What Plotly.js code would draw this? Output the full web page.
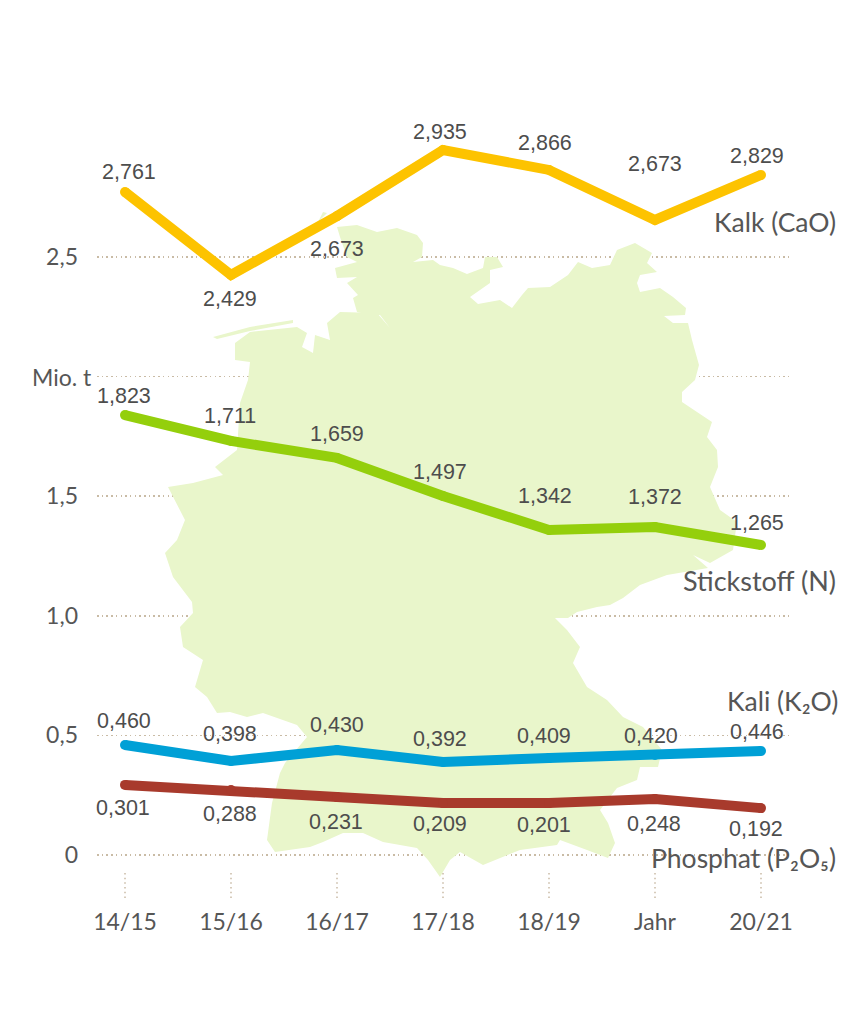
<!DOCTYPE html>
<html><head><meta charset="utf-8">
<script src="https://cdn.plot.ly/plotly-3.0.1.min.js"></script>
<style>html,body{margin:0;padding:0;background:#fff}</style></head>
<body><div id="chart" style="width:860px;height:1012px"></div>
<script>
// Category labels
const categories = ['14/15','15/16','16/17','17/18','18/19','Jahr','20/21'];
// Series as drawn (Mio. t)
const kalk       = [2.772,2.425,2.671,2.947,2.864,2.655,2.843];
const stickstoff = [1.839,1.731,1.660,1.501,1.359,1.371,1.296];
const kali       = [0.460,0.393,0.439,0.389,0.405,0.418,0.435];
const phosphat   = [0.293,0.272,0.242,0.217,0.217,0.234,0.196];
// Printed value labels
const kalkText       = ['2,761','2,429','2,673','2,935','2,866','2,673','2,829'];
const stickstoffText = ['1,823','1,711','1,659','1,497','1,342','1,372','1,265'];
const kaliText       = ['0,460','0,398','0,430','0,392','0,409','0,420','0,446'];
const phosphatText   = ['0,301','0,288','0,231','0,209','0,201','0,248','0,192'];
// Y axis ticks
const yTicks = [0,0.5,1,1.5,2,2.5];
const yTickText = ['0','0,5','1,0','1,5','','2,5'];
// Label offsets from their points, px
const kalkDx = [4,-1,0,-3,-4,0,-4],      kalkDy = [-20,24,33,-18,-27,-56,-19];
const stickDx = [-1,-1,0,-3,-4,0,-4],    stickDy = [-19,-25,-24,-24,-34,-30,-22];
const kaliDx = [-1,-1,0,-3,-5,-4,-4],    kaliDy = [-24,-27,-25,-23,-22,-19,-19];
const phosDx = [-2,-1,-1,-3,-5,-1,-5],   phosDy = [23,24,25,21,22,25,21];
// Background map of Germany: outline (page pixels), decoration only
const mapPx = [[337,227],[357,225],[377,232],[397,228],[417,235],[423,243],[422,257],[413,262],[433,260],[440,265],[453,268],[467,274],[483,268],[485,257],[497,257],[503,267],[490,270],[490,283],[470,297],[478,304],[500,300],[512,308],[522,295],[528,288],[550,287],[568,275],[578,262],[592,268],[610,265],[617,250],[635,243],[652,253],[647,263],[657,272],[640,275],[637,283],[640,292],[660,288],[673,297],[686,308],[685,315],[664,316],[673,323],[688,323],[692,340],[699,365],[695,380],[682,392],[682,402],[712,422],[707,437],[717,450],[718,467],[710,487],[720,510],[737,522],[733,550],[710,563],[693,555],[708,568],[667,575],[640,585],[623,598],[610,605],[597,607],[577,612],[568,618],[555,618],[567,630],[580,647],[573,663],[587,687],[607,700],[623,717],[643,727],[662,750],[658,767],[640,767],[637,780],[617,788],[600,810],[608,823],[615,843],[608,858],[587,850],[560,840],[557,845],[520,850],[483,865],[460,852],[450,860],[440,877],[428,860],[417,848],[383,842],[363,833],[343,833],[323,842],[310,847],[275,852],[267,840],[272,803],[280,773],[285,763],[307,737],[297,725],[263,713],[247,717],[230,712],[217,713],[207,697],[195,687],[203,660],[183,647],[180,627],[193,613],[192,602],[173,577],[165,553],[177,540],[185,520],[168,487],[193,483],[223,475],[215,467],[237,450],[240,403],[248,380],[250,362],[235,360],[235,343],[250,332],[297,327],[307,333],[302,347],[313,353],[315,335],[330,340],[327,323],[340,312],[377,313],[390,328],[380,315],[357,312],[353,298],[358,295],[347,283],[357,277],[337,278],[335,268],[357,262],[347,257],[340,237],[337,227],null,
[213,337],[250,327],[293,320],[293,323],[250,331],[217,339],[213,337],null,
[323,212],[327,213],[318,222],[323,212]];

const PX_X0=125, PX_DX=106, PX_Y0=855, PX_DY=239.2;
const W=860,H=1012,L=97,R=70,T=100,B=112;
const mapX = mapPx.map(p=>p?(p[0]-PX_X0)/PX_DX:null);
const mapY = mapPx.map(p=>p?(PX_Y0-p[1])/PX_DY:null);
const idx = categories.map((c,i)=>i);
const GRID='#c9bba5', TXT='#565656', DASH='1.5px,3.2px';

const series = [
 {y:kalk,t:kalkText,c:'#fdc300',dx:kalkDx,dy:kalkDy},
 {y:stickstoff,t:stickstoffText,c:'#94cf0c',dx:stickDx,dy:stickDy},
 {y:kali,t:kaliText,c:'#00a0d6',dx:kaliDx,dy:kaliDy},
 {y:phosphat,t:phosphatText,c:'#a83a2c',dx:phosDx,dy:phosDy}
];
const traces=[{x:mapX,y:mapY,mode:'lines',fill:'toself',fillcolor:'#e9f6cb',line:{width:0,color:'#e9f6cb'},hoverinfo:'skip'}];
series.forEach(s=>traces.push({x:idx,y:s.y,mode:'lines+markers',line:{color:s.c,width:10},marker:{color:s.c,size:10}}));

const annotations=[];
series.forEach(s=>s.t.forEach((t,i)=>annotations.push({x:i,y:s.y[i],text:t,showarrow:false,xanchor:'center',yanchor:'middle',xshift:s.dx[i],yshift:-s.dy[i],font:{family:'Liberation Sans',size:21.5,color:'#4d4d4d'}})));
const seriesName=(text,yPx,right,size)=>({xref:'paper',yref:'paper',x:(right-L)/(W-L-R),y:(H-B-yPx)/(H-T-B),xanchor:'right',yanchor:'middle',showarrow:false,text:text,font:{family:'Lato',size:size,color:TXT}});
annotations.push(seriesName('Kalk (CaO)',222,838,26.5),seriesName('Stickstoff (N)',580,838,27),seriesName('Kali (K₂O)',701,840,26.5),seriesName('Phosphat (P₂O₅)',858,838,26.5));
annotations.push({xref:'paper',yref:'y',x:(94-L)/(W-L-R),y:2,xanchor:'right',yanchor:'middle',showarrow:false,text:'Mio. t',font:{family:'Lato',size:23,color:TXT}});

const shapes=idx.map(i=>({type:'line',xref:'x',yref:'y',x0:i,x1:i,y0:-0.075,y1:-0.186,line:{color:GRID,width:1.5,dash:DASH}}));

Plotly.newPlot('chart',traces,{
 width:W,height:H,margin:{l:L,r:R,t:T,b:B},showlegend:false,hovermode:false,
 paper_bgcolor:'#fff',plot_bgcolor:'rgba(0,0,0,0)',
 xaxis:{range:[(L-PX_X0)/PX_DX,(W-R-PX_X0)/PX_DX],tickmode:'array',tickvals:idx,ticktext:categories,showgrid:false,zeroline:false,showline:false,ticks:'',ticklabelstandoff:6,tickfont:{family:'Lato',size:23,color:TXT}},
 yaxis:{range:[(PX_Y0-(H-B))/PX_DY,(PX_Y0-T)/PX_DY],tickmode:'array',tickvals:yTicks,ticktext:yTickText,showgrid:true,gridcolor:GRID,gridwidth:1.5,griddash:DASH,zeroline:false,showline:false,ticks:'',ticklabelstandoff:18,tickfont:{family:'Lato',size:23,color:TXT}},
 annotations:annotations,shapes:shapes
},{staticPlot:true,displayModeBar:false});
</script></body></html>
